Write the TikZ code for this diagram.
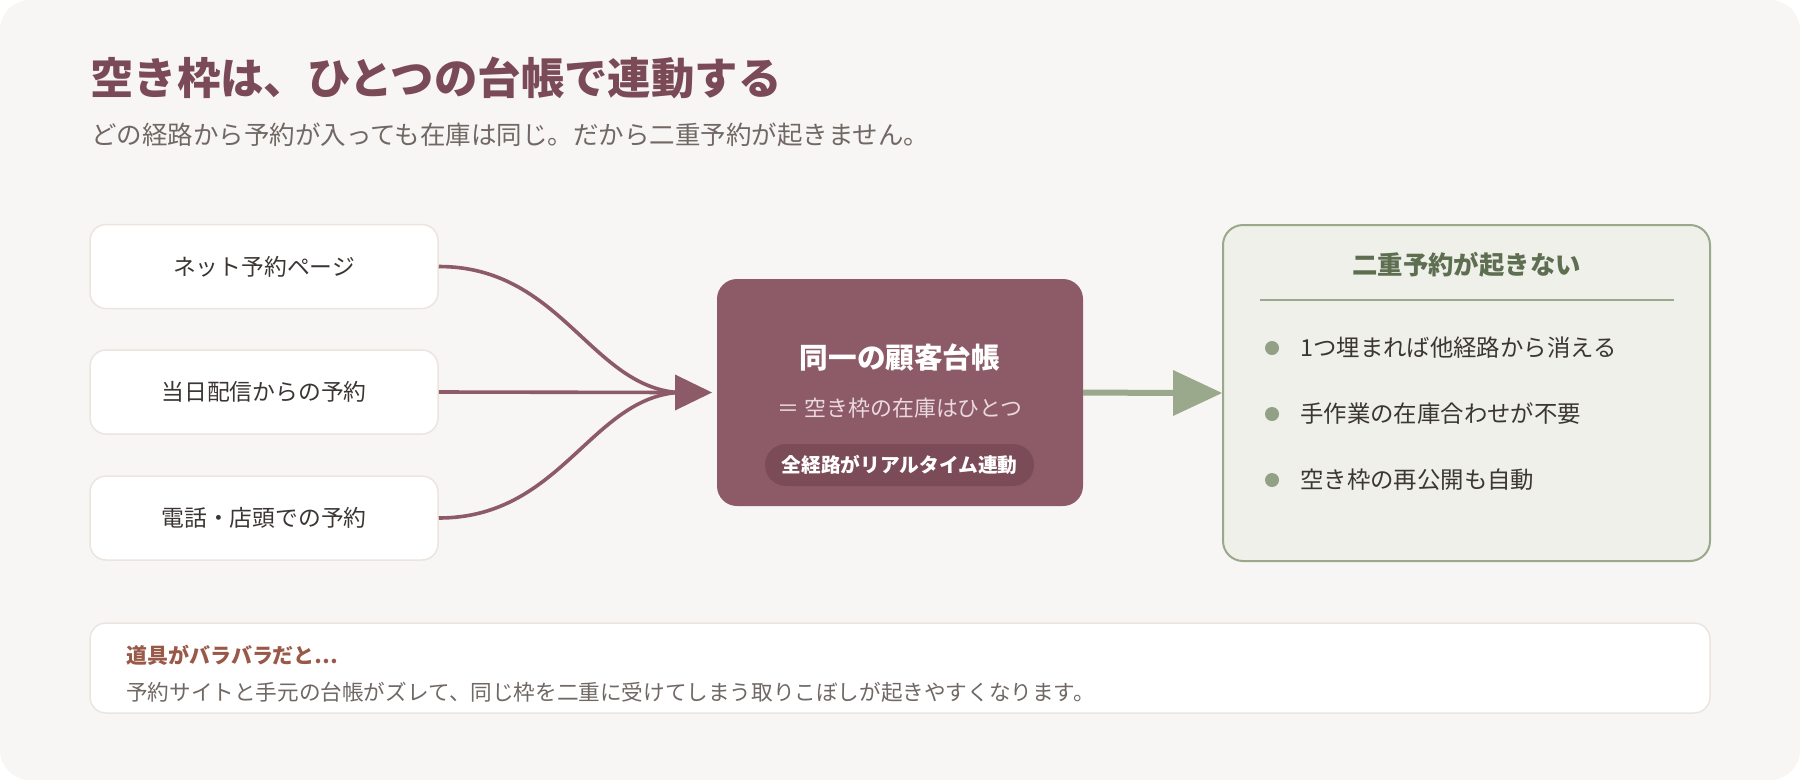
\documentclass[tikz,border=0pt]{standalone}
\usepackage{fontspec}
\setmainfont{Noto Sans CJK JP}
\newfontfamily\jp{Noto Sans CJK JP}
\usetikzlibrary{arrows.meta,calc}
\definecolor{bgc}{HTML}{F8F6F4}
\definecolor{plum}{HTML}{8D5B67}
\definecolor{plumdark}{HTML}{7B4B58}
\definecolor{titlec}{HTML}{7A4A57}
\definecolor{subc}{HTML}{716864}
\definecolor{edgec}{HTML}{ECE4DE}
\definecolor{txt}{HTML}{3B3634}
\definecolor{sage}{HTML}{9AA88C}
\definecolor{sagebg}{HTML}{EEF0E9}
\definecolor{sagetxt}{HTML}{5E6E50}
\definecolor{warn}{HTML}{9A5848}
\definecolor{note}{HTML}{6F6864}
\definecolor{pinktxt}{HTML}{EBD9DD}
\tikzset{
  srcbox/.style={draw=edgec, line width=1.5pt, fill=white, rounded corners=16pt, minimum width=348pt, minimum height=84pt, inner sep=0pt, font=\jp\fontsize{22.8}{26}\selectfont, text=txt},
  flow/.style={draw=plum, line width=3.6pt},
  bullet/.style={circle, fill=sage!95!black, minimum size=14pt, inner sep=0pt},
  item/.style={anchor=west, inner sep=0pt, font=\jp\fontsize{23.4}{27}\selectfont, text=txt}
}
\begin{document}
\begin{tikzpicture}[x=1pt,y=-1pt]
\useasboundingbox (0,0) rectangle (1800,780);
\fill[white] (0,0) rectangle (1800,780);
\fill[bgc, rounded corners=30pt] (0,0) rectangle (1800,780);

% title
\node[anchor=west, inner sep=0pt, font=\jp\bfseries\fontsize{43.4}{48}\selectfont, text=titlec] (title) at (90,78) {空き枠は、ひとつの台帳で連動する};
\node[anchor=west, inner sep=0pt, font=\jp\fontsize{25.5}{30}\selectfont, text=subc] (sub) at (91,135) {どの経路から予約が入っても在庫は同じ。だから二重予約が起きません。};

% source boxes
\node[srcbox] (b1) at (264,266.5) {ネット予約ページ};
\node[srcbox] (b2) at (264,392) {当日配信からの予約};
\node[srcbox] (b3) at (264,518) {電話・店頭での予約};

% hub
\node[fill=plum, rounded corners=20pt, minimum width=366pt, minimum height=227pt, inner sep=0pt] (hub) at (900,392.5) {};
\node[font=\jp\bfseries\fontsize{28.6}{32}\selectfont, text=white, inner sep=0pt] (hubt) at (900,358) {同一の顧客台帳};
\node[font=\jp\fontsize{21.9}{26}\selectfont, text=pinktxt, inner sep=0pt] (hubs) at (900,408) {＝ 空き枠の在庫はひとつ};
\node[fill=plumdark, rounded corners=21pt, minimum width=269pt, minimum height=42pt, inner sep=0pt, font=\jp\bfseries\fontsize{19.7}{23}\selectfont, text=white] (pill) at (899.5,465) {全経路がリアルタイム連動};

% arrows into hub
\coordinate (m) at (677,392.5);
\coordinate (tip) at (712,392.5);
\draw[flow] (b1.east) .. controls (560,266.5) and (590,385) .. (m);
\draw[flow] (b3.east) .. controls (560,518) and (590,400) .. (m);
\draw[flow] (b2.east) -- (m);
\fill[plum] ($(m)+(-2,-18)$) -- (tip) -- ($(m)+(-2,18)$) -- cycle;

% result box
\node[draw=sage, line width=2pt, fill=sagebg, rounded corners=20pt, minimum width=487pt, minimum height=336pt, inner sep=0pt] (res) at (1466.5,393) {};
\node[font=\jp\bfseries\fontsize{25.4}{29}\selectfont, text=sagetxt, inner sep=0pt] (rest) at (1466.5,265) {二重予約が起きない};
\coordinate (sl) at (1260,300);
\coordinate (sr) at (1674,300);
\draw[sage, line width=1.6pt] (sl) -- (sr);
\node[bullet] (d1) at (1272,348) {};
\node[bullet] (d2) at (1272,414) {};
\node[bullet] (d3) at (1272,480) {};
\node[item] (i1) at (1300,348) {1つ埋まれば他経路から消える};
\node[item] (i2) at (1300,414) {手作業の在庫合わせが不要};
\node[item] (i3) at (1300,480) {空き枠の再公開も自動};

% green arrow
\coordinate (ga) at (1175,393);
\draw[sage, line width=6pt] (hub.east) -- (ga);
\fill[sage] (1173,370) -- (res.west) -- (1173,416) -- cycle;

% bottom note
\node[draw=edgec, line width=1.5pt, fill=white, rounded corners=16pt, minimum width=1620pt, minimum height=90pt, inner sep=0pt] (nb) at (900,668) {};
\node[anchor=west, inner sep=0pt, font=\jp\bfseries\fontsize{21}{24}\selectfont, text=warn] (nt) at (126,655) {道具がバラバラだと…};
\node[anchor=west, inner sep=0pt, font=\jp\fontsize{21.6}{25}\selectfont, text=note] (nx) at (126,692) {予約サイトと手元の台帳がズレて、同じ枠を二重に受けてしまう取りこぼしが起きやすくなります。};
\end{tikzpicture}
\end{document}
